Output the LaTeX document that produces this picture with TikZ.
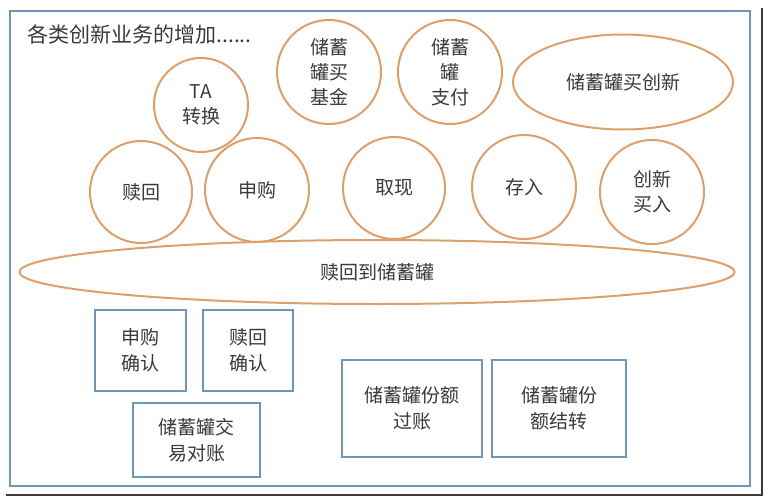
\documentclass[tikz,border=0pt]{standalone}
\usepackage{fontspec}
\setmainfont{Noto Sans CJK SC}
\usepackage{tikz}
\usetikzlibrary{shapes.geometric}
\definecolor{bizorange}{RGB}{220,160,108}
\definecolor{boxblue}{RGB}{112,150,180}
\definecolor{framedark}{RGB}{60,60,60}
\definecolor{labelgray}{RGB}{58,58,58}

\begin{document}
\begin{tikzpicture}[x=1pt,y=-1pt,
		bizcircle/.style={circle,draw=bizorange,line width=2pt,inner sep=0pt,align=center,text=labelgray,font=\fontsize{19}{25}\selectfont},
		bizoval/.style={ellipse,draw=bizorange,line width=2pt,inner sep=0pt,align=center,text=labelgray,font=\fontsize{19}{25}\selectfont},
		taskbox/.style={rectangle,draw=boxblue,line width=2.2pt,inner sep=0pt,align=center,text=labelgray,font=\fontsize{19}{26}\selectfont}]
			\useasboundingbox (0,0) rectangle (766,499);
			% 外枠の描画
			\fill[white] (0,0) rectangle (766,499);
			\draw[framedark,line width=2.5pt] (762,8)--(762,495)--(6,495);
			\draw[boxblue,line width=2pt] (10,11) rectangle (750,486);
			% 見出し
			\node (title) [anchor=west,text=labelgray,font=\fontsize{21}{25}\selectfont] at (24,34) {各类创新业务的增加......};
			% 上段の円
			\node (ta) [bizcircle,minimum size=94pt] at (201,105) {TA\\转换};
			\node (fund) [bizcircle,minimum size=104pt] at (329,72) {储蓄\\罐买\\基金};
			\node (pay) [bizcircle,minimum size=104pt] at (450,72) {储蓄\\罐\\支付};
			\node (newbuy) [bizoval,minimum width=220pt,minimum height=95pt] at (623,82) {储蓄罐买创新};
			% 中段の円
			\node (redeem) [bizcircle,minimum size=102pt] at (141,192) {赎回};
			\node (purchase) [bizcircle,minimum size=104pt] at (257,190) {申购};
			\node (withdraw) [bizcircle,minimum size=102pt] at (394,188) {取现};
			\node (deposit) [bizcircle,minimum size=104pt] at (524,187) {存入};
			\node (innovate) [bizcircle,minimum size=104pt] at (652,192) {创新\\买入};
			% 横長の楕円
			\node (toguan) [bizoval,minimum width=715pt,minimum height=64pt] at (377,272) {赎回到储蓄罐};
			% 下段の箱
			\node (buyok) [taskbox,minimum width=91pt,minimum height=81pt] at (140.5,350.5) {申购\\确认};
			\node (redeemok) [taskbox,minimum width=90pt,minimum height=81pt] at (248,350.5) {赎回\\确认};
			\node (check) [taskbox,minimum width=127pt,minimum height=74pt] at (196.5,440) {储蓄罐交\\易对账};
			\node (posting) [taskbox,minimum width=140pt,minimum height=97pt] at (412,408.5) {储蓄罐份额\\过账};
			\node (carry) [taskbox,minimum width=134pt,minimum height=97pt] at (559,408.5) {储蓄罐份\\额结转};
		\end{tikzpicture}
\end{document}
